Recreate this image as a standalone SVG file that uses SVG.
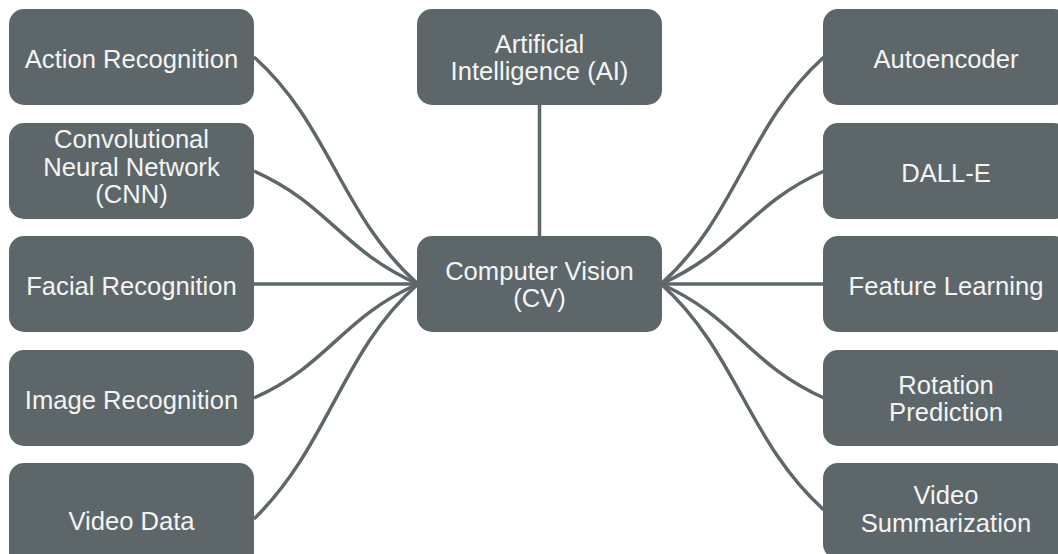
<svg xmlns="http://www.w3.org/2000/svg" width="1058" height="554" viewBox="0 0 1058 554">
  <style>
    .box { fill: #5d6769; }
    .lbl { fill: #f4f4f4; font-family: "Liberation Sans", Arial, sans-serif; font-size: 25.6px; text-anchor: middle; }
    .link { fill: none; stroke: #5d6769; stroke-width: 3.5; }
  </style>
  <rect width="1058" height="554" fill="#ffffff"/>

  <!-- connectors -->
  <g id="connectors">
    <line class="link" x1="539.5" y1="100" x2="539.5" y2="240"/>
    <!-- left fan into Computer Vision -->
    <path class="link" d="M254,57 C330,125 341,216 418,284"/>
    <path class="link" d="M254,171 C330,205 341,250 418,284"/>
    <path class="link" d="M254,284 L418,284"/>
    <path class="link" d="M254,398 C330,364 341,318 418,284"/>
    <path class="link" d="M254,519 C330,444 341,352 418,284"/>
    <!-- right fan out of Computer Vision -->
    <path class="link" d="M824,57 C748,125 737,216 661,284"/>
    <path class="link" d="M824,171 C748,205 737,250 661,284"/>
    <path class="link" d="M824,284 L661,284"/>
    <path class="link" d="M824,398 C748,364 737,318 661,284"/>
    <path class="link" d="M824,510 C748,442 737,352 661,284"/>
  </g>

  <!-- centre column -->
  <g id="node-ai">
    <rect class="box" x="417" y="9" width="245" height="96" rx="15"/>
    <text class="lbl" x="539.5" y="52.5">Artificial</text>
    <text class="lbl" x="539.5" y="80">Intelligence (AI)</text>
  </g>
  <g id="node-cv">
    <rect class="box" x="417" y="236" width="245" height="96" rx="15"/>
    <text class="lbl" x="539.5" y="279.5">Computer Vision</text>
    <text class="lbl" x="539.5" y="307">(CV)</text>
  </g>

  <!-- left column -->
  <g id="node-action-recognition">
    <rect class="box" x="9" y="9" width="245" height="96" rx="15"/>
    <text class="lbl" x="131.5" y="68">Action Recognition</text>
  </g>
  <g id="node-cnn">
    <rect class="box" x="9" y="123" width="245" height="96" rx="15"/>
    <text class="lbl" x="131.5" y="148">Convolutional</text>
    <text class="lbl" x="131.5" y="175.5">Neural Network</text>
    <text class="lbl" x="131.5" y="203">(CNN)</text>
  </g>
  <g id="node-facial-recognition">
    <rect class="box" x="9" y="236" width="245" height="96" rx="15"/>
    <text class="lbl" x="131.5" y="295">Facial Recognition</text>
  </g>
  <g id="node-image-recognition">
    <rect class="box" x="9" y="350" width="245" height="96" rx="15"/>
    <text class="lbl" x="131.5" y="409">Image Recognition</text>
  </g>
  <g id="node-video-data">
    <rect class="box" x="9" y="463" width="245" height="115" rx="15"/>
    <text class="lbl" x="131.5" y="530">Video Data</text>
  </g>

  <!-- right column -->
  <g id="node-autoencoder">
    <rect class="box" x="823" y="9" width="246" height="96" rx="15"/>
    <text class="lbl" x="946" y="68">Autoencoder</text>
  </g>
  <g id="node-dall-e">
    <rect class="box" x="823" y="123" width="246" height="96" rx="15"/>
    <text class="lbl" x="946" y="182">DALL-E</text>
  </g>
  <g id="node-feature-learning">
    <rect class="box" x="823" y="236" width="246" height="96" rx="15"/>
    <text class="lbl" x="946" y="295">Feature Learning</text>
  </g>
  <g id="node-rotation-prediction">
    <rect class="box" x="823" y="350" width="246" height="96" rx="15"/>
    <text class="lbl" x="946" y="393.5">Rotation</text>
    <text class="lbl" x="946" y="421">Prediction</text>
  </g>
  <g id="node-video-summarization">
    <rect class="box" x="823" y="463" width="246" height="96" rx="15"/>
    <text class="lbl" x="946" y="504">Video</text>
    <text class="lbl" x="946" y="531.5">Summarization</text>
  </g>
</svg>
